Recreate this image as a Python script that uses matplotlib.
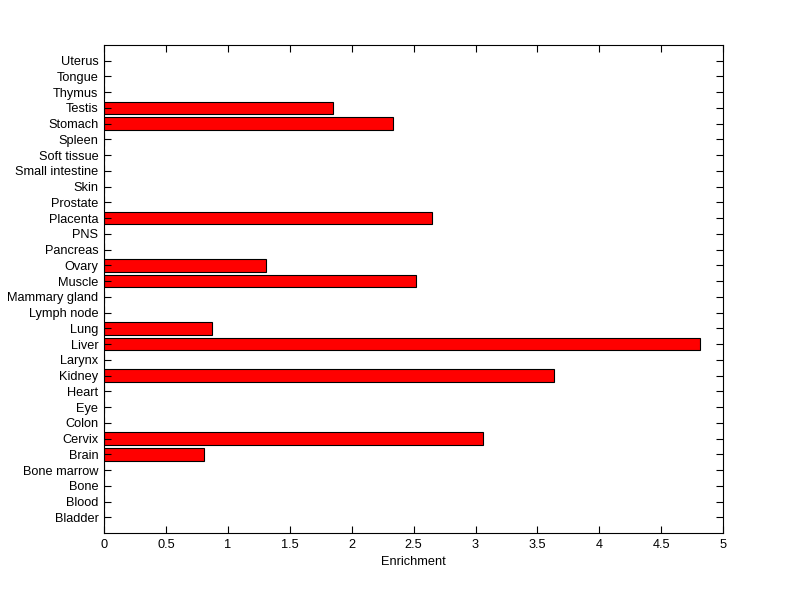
import matplotlib.pyplot as plt
import numpy as np

tissues = ['Bladder', 'Blood', 'Bone', 'Bone marrow', 'Brain', 'Cervix', 'Colon',
           'Eye', 'Heart', 'Kidney', 'Larynx', 'Liver', 'Lung', 'Lymph node',
           'Mammary gland', 'Muscle', 'Ovary', 'Pancreas', 'PNS', 'Placenta',
           'Prostate', 'Skin', 'Small intestine', 'Soft tissue', 'Spleen',
           'Stomach', 'Testis', 'Thymus', 'Tongue', 'Uterus']
enrichment = [0, 0, 0, 0, 0.81, 3.06, 0,
              0, 0, 3.63, 0, 4.81, 0.87, 0,
              0, 2.52, 1.31, 0, 0, 2.65,
              0, 0, 0, 0, 0,
              2.33, 1.85, 0, 0, 0]
xticks = [0, 0.5, 1, 1.5, 2, 2.5, 3, 3.5, 4, 4.5, 5]

plt.rcParams['font.family'] = ['Liberation Sans', 'DejaVu Sans']

fig = plt.figure(figsize=(8, 5.99), dpi=100)
ax = fig.add_axes([0.13, 0.110, 0.774, 0.815])

pos = np.arange(1, len(tissues) + 1)
ax.barh(pos, enrichment, height=0.8, color='red', edgecolor='black', linewidth=0.8)

ax.set_xlim(0, 5)
ax.set_ylim(0, len(tissues) + 1)
ax.set_xticks(xticks)
ax.set_xticklabels([f'{t:g}' for t in xticks])
ax.set_yticks(pos)
ax.set_yticklabels(tissues)
ax.tick_params(direction='in', length=5, width=0.8, labelsize=9.2,
               top=True, right=True, pad=4)
ax.set_xlabel('Enrichment', fontsize=9.2, labelpad=4)
for s in ax.spines.values():
    s.set_linewidth(0.8)

fig.savefig('out.png', dpi=100)
